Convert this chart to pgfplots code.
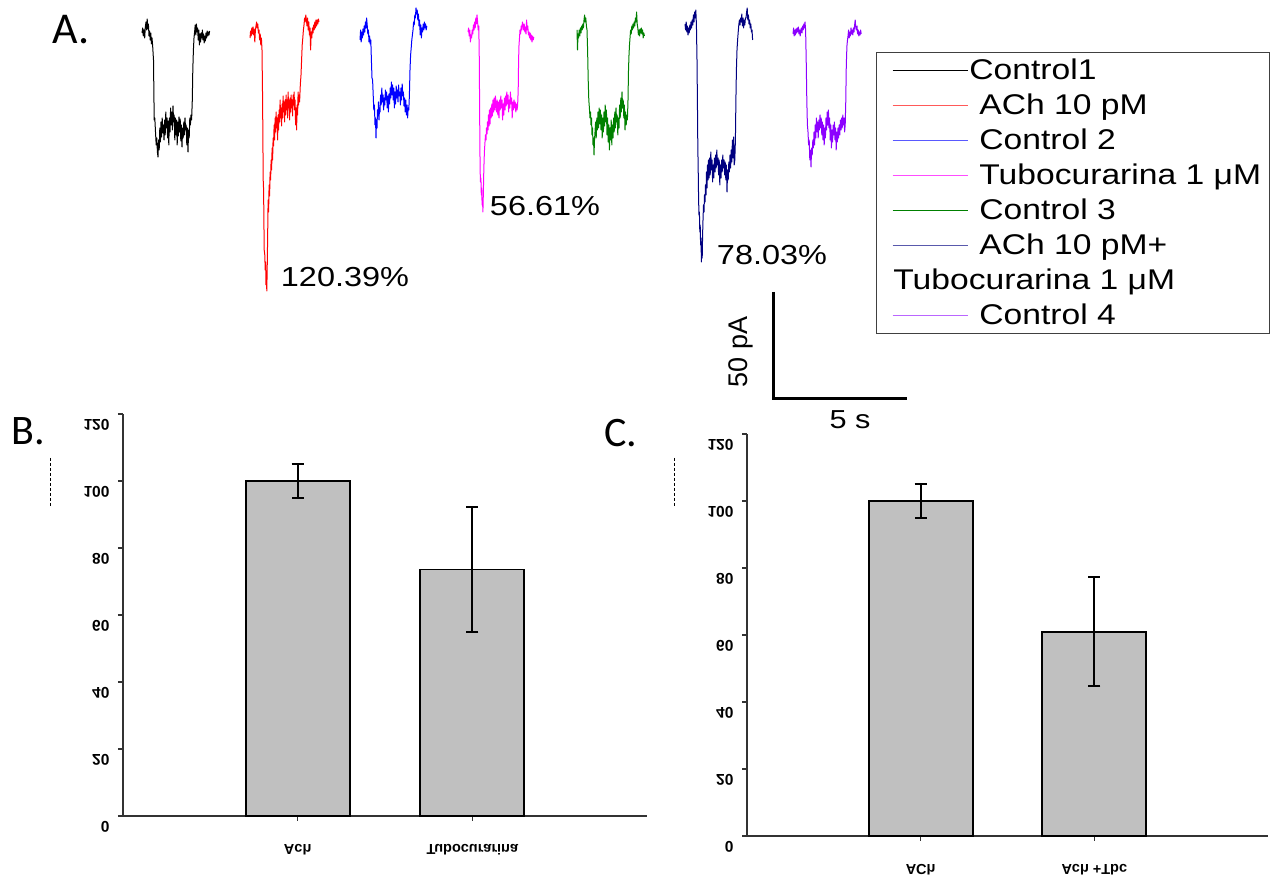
\documentclass[border=0pt]{standalone}
\usepackage{pgfplots}
\pgfplotsset{compat=1.18}
\usepackage{fontspec}
\setmainfont{Liberation Sans}
\newfontfamily\calibri{Carlito}
\definecolor{cBlack}{RGB}{0,0,0}
\definecolor{cRed}{RGB}{255,0,0}
\definecolor{cBlue}{RGB}{0,0,255}
\definecolor{cMag}{RGB}{255,0,255}
\definecolor{cGreen}{RGB}{0,128,0}
\definecolor{cNavy}{RGB}{0,0,128}
\definecolor{cViolet}{RGB}{140,0,255}
\definecolor{cBar}{RGB}{192,192,192}
\newcommand{\flip}[1]{\scalebox{1}[-1]{#1}}
\newcommand{\wide}[1]{\scalebox{1.18}[1]{#1}}
\pgfplotsset{
  barpanel/.style={
    anchor=south west, scale only axis,
    xmin=0, xmax=3, ymin=0, ymax=120,
    axis lines*=left,
    axis line style={line width=1.4pt, black!80},
    tick style={line width=1.3pt, black!80},
    tick align=outside, major tick length=5pt,
    ytick={0,20,...,120}, xtick={1,2},
    yticklabel={\flip{\pgfmathprintnumber[assume math mode=true]{\tick}}},
    yticklabel style={font=\bfseries\fontsize{15.5}{15.5}\selectfont, xshift=-5pt, yshift=-11pt},
    xticklabel style={font=\bfseries\fontsize{14.5}{14.5}\selectfont, yshift=-20pt},
    clip=false,
  },
  barstyle/.style={ybar, bar width=104pt, fill=cBar, draw=black, line width=1.8pt,
    error bars/.cd, y dir=both, y explicit,
    error bar style={line width=2pt, black},
    error mark options={black, line width=2pt, mark size=6pt, rotate=90}},
}
\begin{document}
\begin{tikzpicture}
\useasboundingbox (0,0) rectangle (1271pt,877pt);
\clip (0,0) rectangle (1271pt,877pt);
% Panel B
\begin{axis}[barpanel, at={(123pt,61pt)}, width=524pt, height=402pt,
  xticklabels={\flip{Ach},\flip{Tubocurarina}}]
\addplot[barstyle] coordinates {(1,100) +- (0,5) (2,73.6) +- (0,18.7)};
\end{axis}
% Panel C
\begin{axis}[barpanel, at={(747pt,41pt)}, width=521pt, height=402pt,
  xticklabels={\flip{ACh},\flip{Ach +Tbc}}]
\addplot[barstyle] coordinates {(1,100) +- (0,5) (2,61) +- (0,16.3)};
\end{axis}
% Panel A: traces (pixel coordinates)
\begin{axis}[at={(0pt,0pt)}, anchor=south west, scale only axis,
  width=1271pt, height=877pt, xmin=0, xmax=1271, ymin=0, ymax=877,
  y dir=reverse, axis lines=none, clip=false,
  legend style={at={(axis cs:876,52)}, anchor=north west, draw=black!75, line width=1.2pt,
    inner xsep=15pt, inner ysep=4pt, row sep=7pt, column sep=11pt,
    font=\fontsize{28.5}{28.5}\selectfont,
    nodes={inner xsep=0pt, inner ysep=2pt, text height=21pt, text depth=3pt}},
  legend cell align=left,
  legend image code/.code={\draw[#1, line width=1.8pt] (0pt,0pt) -- (75pt,0pt);},
  every axis plot/.append style={line width=1pt, line join=round}]
% Control 1
\addplot[cBlack, forget plot] coordinates {(142,33)(142.7,28)(143.3,36)(144,30)(144.7,38)(145.3,27)(146,22)(146.6,30)(147.2,19)(147.8,29)(148.4,24)(149,36)(149.6,31)(150.2,40)(150.8,33)(151.4,44)(152,38)(152.6,45)
(153.5,60)(154.2,120)(154.8,118)
(155.5,132)(156.2,145)(156.8,138)(157.4,152)(158,157)(158.6,140)(159.2,150)(159.8,128)(160.4,142)(161,122)(161.6,137)(162.2,118)(162.8,133)(163.4,125)(164,140)(164.6,120)(165.2,135)(165.8,112)(166.4,128)(167,118)(167.6,138)(168.2,121)(168.8,145)(169.4,118)(170,132)(170.6,108)(171.2,125)(171.8,112)(172.4,130)(173,106)(173.6,122)(174.2,115)(174.8,140)(175.4,118)(176,135)(176.6,120)(177.2,145)(177.8,122)(178.4,136)(179,117)(179.6,132)(180.2,119)(180.8,141)(181.4,125)(182,147)(182.6,128)(183.2,138)(183.8,122)(184.4,135)(185,118)(185.6,130)(186.2,125)(186.8,145)(187.4,128)(188,152)(188.6,130)(189.2,138)(189.8,118)(190.4,125)(191,115)(191.6,120)
(192.3,100)(192.8,70)(193.4,50)(194,38)(194.6,32)
(195.2,25)(195.8,35)(196.4,24)(197,32)(197.6,28)(198.2,40)(198.8,30)(199.4,45)(200,34)(200.6,42)(201.2,33)(201.8,38)(202.4,30)(203,40)(203.6,34)(204.2,43)(204.8,36)(205.4,41)(206,33)(206.6,38)(207.2,31)(207.8,36)(208.4,32)(209,35)(209.6,31)};
% ACh 10 pM
\addplot[cRed, forget plot] coordinates {(250,38)(250.6,31)(251.2,36)(251.8,28)(252.4,34)(253,27)(253.6,35)(254.2,29)(254.8,42)(255.4,30)(256,26)(256.6,22)(257.2,28)(257.8,24)(258.4,33)(259,30)(259.6,40)(260.2,34)(260.8,45)(261.4,38)(262,50)
(262.6,100)(263.2,180)(263.6,190)(264.2,250)(264.8,255)(265.2,270)(265.6,262)(266,285)(266.4,276)(266.8,291)(267.2,268)
(267.6,240)(268.1,200)(268.6,212)(269.1,185)(269.6,196)(270.1,172)(270.6,180)(271.1,160)(271.6,170)(272.1,148)(272.6,160)(273.1,138)(273.6,146)(274.1,125)(274.6,140)(275.1,118)(275.6,132)(276.1,112)(276.6,128)(277.1,118)(277.6,140)(278.1,115)(278.6,130)(279.1,110)(279.6,122)(280.1,100)(280.6,118)(281.1,108)(281.6,126)(282.1,104)(282.6,118)(283.1,96)(283.6,112)(284.1,102)(284.6,122)(285.1,100)(285.6,115)(286.1,95)(286.6,110)(287.1,100)(287.6,118)(288.1,92)(288.6,108)(289.1,100)(289.6,120)(290.1,98)(290.6,112)(291.1,95)(291.6,108)(292.1,100)(292.6,116)(293.1,95)(293.6,105)(294.1,92)(294.6,110)(295.1,100)(295.6,125)(296.1,108)(296.6,130)(297.1,105)(297.6,115)(298.1,92)(298.6,105)(299.1,95)(299.6,102)
(300.3,85)(301,75)(301.6,60)(302.2,45)(302.8,38)(303.4,30)(304,25)(304.6,18)(305.2,22)(305.8,15)(306.4,20)
(307,26)(307.6,18)(308.2,30)(308.8,22)(309.4,35)(310,28)(310.6,50)(311.2,32)(311.8,38)(312.4,28)(313,33)(313.6,25)(314.2,30)(314.8,22)(315.4,28)(316,20)(316.6,26)(317.2,20)(317.8,24)(318.4,19)(319,22)};
% Control 2
\addplot[cBlue, forget plot] coordinates {(360,40)(360.6,30)(361.2,42)(361.8,32)(362.4,38)(363,29)(363.6,35)(364.2,26)(364.8,32)(365.4,22)(366,28)(366.6,18)(367.2,25)(367.8,34)(368.4,30)(369,42)(369.6,36)(370.2,44)(370.8,40)
(371.4,60)(372,78)(372.6,80)(373.2,95)(373.8,110)(374.4,105)(375,125)(375.5,118)(376,138)(376.5,120)(377,128)
(377.5,110)(378,116)(378.5,102)(379,120)(379.5,108)(380,112)(380.6,95)(381.2,105)(381.8,88)(382.4,102)(383,95)(383.6,110)(384.2,98)(384.8,105)(385.4,90)(386,100)(386.6,92)(387.2,108)(387.8,96)(388.4,112)(389,94)(389.6,104)(390.2,88)(390.8,98)(391.4,82)(392,95)(392.6,85)(393.2,100)(393.8,88)(394.4,108)(395,92)(395.6,104)(396.2,86)(396.8,98)(397.4,90)(398,102)(398.6,85)(399.2,96)(399.8,92)(400.4,105)(401,88)(401.6,100)(402.2,84)(402.8,96)(403.4,92)(404,106)(404.6,98)(405.2,112)(405.8,100)(406.4,115)(407,105)(407.6,118)(408.2,108)(408.8,110)
(409.4,95)(410,70)(410.6,55)(411.2,48)(411.8,40)(412.4,35)(413,30)(413.6,22)(414.2,25)(414.8,15)(415.4,18)(416,8)(416.6,14)
(417.2,10)(417.8,20)(418.4,14)(419,26)(419.6,20)(420.2,35)(420.8,25)(421.4,38)(422,28)(422.6,32)(423.2,24)(423.8,30)(424.4,22)(425,28)(425.6,24)(426.2,30)(426.8,26)};
% Tubocurarina 1 uM
\addplot[cMag, forget plot] coordinates {(468,32)(468.6,28)(469.2,36)(469.8,30)(470.4,42)(471,35)(471.6,38)(472.2,30)(472.8,34)(473.4,25)(474,30)(474.6,22)(475.2,28)(475.8,18)(476.4,24)(477,15)(477.6,22)(478.2,30)(478.8,26)
(479.3,60)(479.7,120)(480.1,170)(480.5,182)(480.9,178)(481.3,195)(481.7,188)(482.1,205)(482.5,198)(482.9,212)(483.3,195)
(483.7,175)(484.1,160)(484.5,150)(485,142)(485.5,135)(486,140)(486.5,128)(487,134)(487.5,122)(488,130)(488.5,115)(489,126)(489.5,110)(490,124)(490.6,108)(491.2,118)(491.8,104)(492.4,116)(493,100)(493.6,112)(494.2,98)(494.8,110)(495.4,96)(496,105)(496.6,112)(497.2,100)(497.8,115)(498.4,102)(499,118)(499.6,100)(500.2,110)(500.8,96)(501.4,108)(502,100)(502.6,120)(503.2,104)(503.8,115)(504.4,98)(505,110)(505.6,96)(506.2,106)(506.8,92)(507.4,104)(508,95)(508.6,112)(509.2,100)(509.8,108)(510.4,92)(511,104)(511.6,98)(512.2,118)(512.8,102)(513.4,110)(514,100)(514.6,108)(515.2,102)(515.8,112)(516.4,104)(517,110)(517.6,106)
(518.2,90)(518.6,60)(519,45)(519.5,38)(520,30)(520.6,34)(521.2,26)(521.8,30)(522.4,22)(523,25)
(523.6,30)(524.2,24)(524.8,32)(525.4,27)(526,34)(526.6,20)(527.2,30)(527.8,26)(528.4,35)(529,32)(529.6,38)(530.2,33)(530.8,40)(531.4,35)(532,42)(532.6,36)(533.2,40)(533.8,37)};
% Control 3
\addplot[cGreen, forget plot] coordinates {(577,30)(577.5,50)(578,34)(578.6,38)(579.2,30)(579.8,36)(580.4,28)(581,33)(581.6,26)(582.2,30)(582.8,24)(583.4,28)(584,20)(584.6,15)(585.2,22)(585.8,18)(586.4,26)(587,30)
(587.6,50)(588.2,80)(588.8,100)(589.4,108)(590,118)
(590.5,112)(591,125)(591.5,118)(592,135)(592.5,128)(593,145)(593.5,138)(594,155)(594.5,140)(595,132)(595.6,122)(596.2,138)(596.8,118)(597.4,130)(598,112)(598.6,128)(599.2,108)(599.8,124)(600.4,110)(601,130)(601.6,115)(602.2,138)(602.8,118)(603.4,132)(604,112)(604.6,126)(605.2,105)(605.8,122)(606.4,110)(607,135)(607.6,118)(608.2,142)(608.8,125)(609.4,150)(610,128)(610.6,140)(611.2,120)(611.8,145)(612.4,125)(613,138)(613.6,118)(614.2,132)(614.8,112)(615.4,128)(616,108)(616.6,122)(617.2,115)(617.8,135)(618.4,118)(619,128)(619.6,105)(620.2,118)(620.8,98)(621.4,112)(622,92)(622.6,108)(623.2,100)(623.8,118)(624.4,105)(625,130)(625.6,112)(626.2,125)(626.8,115)(627.4,120)
(628,100)(628.5,70)(629,55)(629.5,45)(630,38)(630.6,30)(631.2,34)
(631.8,26)(632.4,30)(633,24)(633.6,28)(634.2,22)(634.8,26)(635.4,18)(636,22)(636.6,12)(637.2,24)(637.8,28)(638.4,35)(639,30)(639.6,36)(640.2,29)(640.8,33)(641.4,28)(642,34)(642.6,30)(643.2,38)(643.8,33)(644.4,36)};
% ACh 10 pM + Tubocurarina
\addplot[cNavy, forget plot] coordinates {(685,24)(685.6,30)(686.2,22)(686.8,32)(687.4,26)(688,35)(688.6,28)(689.2,33)(689.8,25)(690.4,30)(691,22)(691.6,28)(692.2,20)(692.8,25)(693.4,15)(694,22)(694.6,12)(695.2,18)(695.8,10)(696.4,24)
(697,60)(697.4,100)(697.8,145)(698.2,170)(698.6,200)(699,215)(699.4,212)(699.8,232)(700.2,225)(700.6,245)(701,238)(701.4,262)(701.8,248)(702.2,258)(702.6,235)
(703,220)(703.5,205)(704,212)(704.5,195)(705,202)(705.5,185)(706,195)(706.5,172)(707,188)(707.5,165)(708,180)(708.5,160)(709,178)(709.6,158)(710.2,175)(710.8,152)(711.4,170)(712,160)(712.6,182)(713.2,165)(713.8,178)(714.4,158)(715,172)(715.6,155)(716.2,168)(716.8,150)(717.4,165)(718,158)(718.6,175)(719.2,160)(719.8,185)(720.4,165)(721,178)(721.6,160)(722.2,172)(722.8,155)(723.4,168)(724,160)(724.6,175)(725.2,162)(725.8,180)(726.4,165)(727,192)(727.6,170)(728.2,180)(728.8,162)(729.4,172)(730,155)(730.6,168)(731.2,150)(731.8,162)(732.4,140)(733,158)(733.6,137)(734.2,165)(734.8,160)
(735.4,140)(735.9,100)(736.4,70)(737,50)(737.6,40)(738.2,32)(738.8,25)(739.4,20)(740,25)(740.6,18)
(741.2,22)(741.8,14)(742.4,26)(743,18)(743.6,28)(744.2,20)(744.8,25)(745.4,18)(746,18)(746.6,12)(747.2,8)(747.8,20)(748.4,15)(749,24)(749.6,20)(750.2,28)(750.8,24)(751.4,32)(752,30)(752.6,40)};
% Control 4
\addplot[cViolet, forget plot] coordinates {(793,34)(793.6,28)(794.2,36)(794.8,30)(795.4,35)(796,29)(796.6,33)(797.2,28)(797.8,32)(798.4,27)(799,34)(799.6,30)(800.2,36)(800.8,30)(801.4,28)(802,33)(802.6,26)(803.2,30)(803.8,24)(804.4,28)(805,22)(805.6,30)
(806.2,60)(806.8,100)(807.4,125)(808,132)(808.6,145)(809.2,140)(809.8,160)(810.4,150)(811,167)(811.6,148)(812.2,155)
(812.8,140)(813.4,148)(814,132)(814.6,145)(815.2,125)(815.8,138)(816.4,118)(817,132)(817.6,122)(818.2,138)(818.8,120)(819.4,130)(820,115)(820.6,128)(821.2,118)(821.8,135)(822.4,122)(823,140)(823.6,125)(824.2,145)(824.8,128)(825.4,138)(826,118)(826.6,130)(827.2,112)(827.8,125)(828.4,110)(829,128)(829.6,118)(830.2,140)(830.8,125)(831.4,148)(832,130)(832.6,142)(833.2,125)(833.8,135)(834.4,122)(835,140)(835.6,128)(836.2,150)(836.8,132)(837.4,142)(838,128)(838.6,138)(839.2,125)(839.8,135)(840.4,120)(841,130)(841.6,118)(842.2,128)(842.8,115)(843.4,125)(844,118)(844.6,132)(845.2,125)
(845.8,100)(846.2,70)(846.6,55)(847,45)(847.5,40)(848,36)
(848.6,30)(849.2,38)(849.8,32)(850.4,36)(851,28)(851.6,34)(852.2,30)(852.8,35)(853.4,28)(854,32)(854.6,25)(855.2,20)(855.8,28)(856.4,30)(857,26)(857.6,34)(858.2,30)(858.8,36)(859.4,32)(860,35)(860.6,30)(861.2,34)};
% legend images (lighter, as in the reference legend)
\addlegendimage{cBlack}
\addlegendimage{cRed!65!white}
\addlegendimage{cBlue!65!white}
\addlegendimage{cMag!70!white}
\addlegendimage{cGreen}
\addlegendimage{cNavy!65!white}
\addlegendimage{empty legend}
\addlegendimage{cViolet!60!white}
\legend{\hspace*{-10pt}\wide{Control1},\wide{ACh 10 pM},\wide{Control 2},\wide{Tubocurarina 1 μM}\hspace*{-7pt},\wide{Control 3},\wide{ACh 10 pM+},\hspace*{-86pt}\wide{Tubocurarina 1 μM},\wide{Control 4}}
% scale bar
\addplot[black, line width=3pt, line join=miter, forget plot] coordinates {(773,292)(773,399)(907,399)};
% small dashed marks
\addplot[black, densely dashed, line width=0.6pt, forget plot] coordinates {(50,458)(50,507)};
\addplot[black, densely dashed, line width=0.6pt, forget plot] coordinates {(674,458)(674,507)};
% texts
\node[font=\fontsize{27.5}{27.5}\selectfont] at (axis cs:345,277) {\wide{120.39\%}};
\node[font=\fontsize{27.5}{27.5}\selectfont] at (axis cs:545,206) {\wide{56.61\%}};
\node[font=\fontsize{27.5}{27.5}\selectfont] at (axis cs:772,255) {\wide{78.03\%}};
\node[font=\fontsize{27}{27}\selectfont, rotate=90] at (axis cs:741,352) {50 pA};
\node[font=\fontsize{26}{26}\selectfont] at (axis cs:850,420) {\wide{5 s}};
\node[font=\calibri\fontsize{44}{44}\selectfont] at (axis cs:71,30) {A.};
\node[font=\calibri\fontsize{42}{42}\selectfont] at (axis cs:28,431) {B.};
\node[font=\calibri\fontsize{42}{42}\selectfont] at (axis cs:621,433) {C.};
\end{axis}
\end{tikzpicture}
\end{document}
